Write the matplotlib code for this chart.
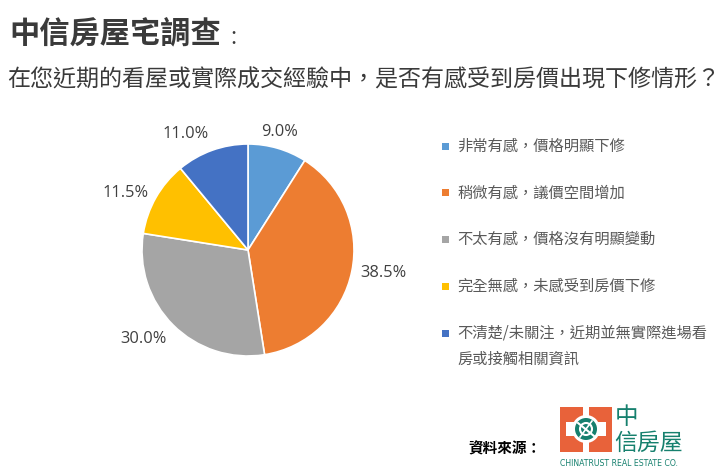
import numpy as np
import matplotlib
matplotlib.use("Agg")
import matplotlib.pyplot as plt
from matplotlib.patches import Rectangle, Circle

categories = [
    "非常有感，價格明顯下修",
    "稍微有感，議價空間增加",
    "不太有感，價格沒有明顯變動",
    "完全無感，未感受到房價下修",
    "不清楚/未關注，近期並無實際進場看\n房或接觸相關資訊",
]
values = [9.0, 38.5, 30.0, 11.5, 11.0]
colors = ["#5B9BD5", "#ED7D31", "#A5A5A5", "#FFC000", "#4472C4"]
title = "中信房屋宅調查"
subtitle = "在您近期的看屋或實際成交經驗中，是否有感受到房價出現下修情形？"
source_label = "資料來源："

CJK = ["Noto Sans CJK TC", "DejaVu Sans"]
W, H = 722, 476
fig = plt.figure(figsize=(W / 100, H / 100), dpi=100)
fig.patch.set_facecolor("white")

# overlay axes in pixel coordinates
bg = fig.add_axes([0, 0, 1, 1])
bg.set_xlim(0, W)
bg.set_ylim(H, 0)
bg.axis("off")

# titles
bg.text(9, 33, title, family=CJK, fontsize=21.8, fontweight="bold",
        color="#3A3A3A", ha="left", va="center")
bg.text(230, 37, ":", family=CJK, fontsize=16, color="#3A3A3A",
        ha="left", va="center")
bg.text(7, 80, subtitle, family=CJK, fontsize=16.6, fontweight="light",
        color="#3A3A3A", ha="left", va="center")

# pie
cx, cy, r = 248, 250, 106
ax = fig.add_axes([(cx - r) / W, 1 - (cy + r) / H, 2 * r / W, 2 * r / H])
wedges, _ = ax.pie(values, colors=colors, startangle=90, counterclock=False,
                   wedgeprops=dict(edgecolor="white", linewidth=1.2),
                   radius=1.0)
ax.set_xlim(-1, 1)
ax.set_ylim(-1, 1)
ax.set_aspect("equal")
ax.axis("off")

for w, v in zip(wedges, values):
    ang = np.deg2rad((w.theta1 + w.theta2) / 2)
    c, s = np.cos(ang), np.sin(ang)
    x, y = 1.08 * c, 1.08 * s
    ha = "left" if c > 0.3 else ("right" if c < -0.3 else "center")
    va = "bottom" if s > 0.6 else ("top" if s < -0.6 else "center")
    ax.text(x, y, f"{v:.1f}%", family=["Open Sans", "DejaVu Sans"],
            fontsize=11.8, color="#404040", ha=ha, va=va, clip_on=False)

# legend (manual)
row_y = 146
for i, (lab, col) in enumerate(zip(categories, colors)):
    y = row_y + i * 46.8
    multi = "\n" in lab
    bg.add_patch(Rectangle((442, y - 3.5), 7, 7, facecolor=col, edgecolor="none"))
    bg.text(457, y - 9 if multi else y, lab, family=CJK, fontsize=11,
            color="#595959", ha="left", va="top" if multi else "center",
            linespacing=1.75)

# source
bg.text(468, 448, source_label, family=CJK, fontsize=10.5, fontweight="bold",
        color="#000000", ha="left", va="center")

# logo
orange = "#E8623A"
green = "#16806E"
bg.add_patch(Rectangle((560, 407), 52, 45, facecolor=orange, edgecolor="none"))
bg.add_patch(Rectangle((583, 407), 6, 10, facecolor="white", edgecolor="none"))
bg.add_patch(Rectangle((583, 442), 6, 10, facecolor="white", edgecolor="none"))
bg.add_patch(Rectangle((566, 422), 40, 14, facecolor="white", edgecolor="none"))
bg.add_patch(Circle((586, 429), 14, facecolor="white", edgecolor="none"))
bg.add_patch(Circle((586, 429), 11, facecolor=green, edgecolor="none"))
bg.add_patch(Circle((586, 429), 6, facecolor="none", edgecolor="white", linewidth=1.5))
bg.plot([578, 594], [423, 436], color="white", linewidth=1.5)
bg.plot([580, 592], [437, 421], color="white", linewidth=1.2)
bg.text(615, 418, "中", family=CJK, fontsize=17, color=green,
        ha="left", va="center")
bg.text(614, 443, "信房屋", family=CJK, fontsize=16.5, color=green,
        ha="left", va="center")
bg.text(560, 463, "CHINATRUST REAL ESTATE CO.", family=["DejaVu Sans"],
        fontsize=5.6, color=green, ha="left", va="center")

fig.savefig("out.png", dpi=100, facecolor="white")
